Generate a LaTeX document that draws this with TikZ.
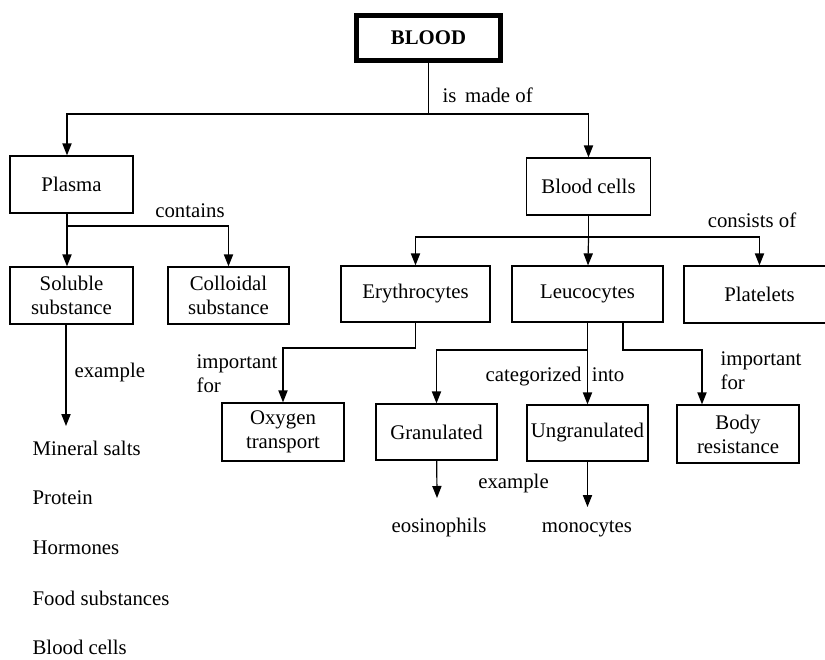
\documentclass[tikz,border=0pt]{standalone}
\usepackage{fontspec}
\setmainfont{Liberation Serif}
\usepackage{tikz}
\usetikzlibrary{arrows.meta, positioning}

\begin{document}
\begin{tikzpicture}[x=0.5pt, y=-0.5pt, >={Triangle[length=6pt,width=4.6pt]},
    line width=0.6pt, font=\fontsize{10.4}{12}\selectfont,
    box/.style={draw, inner sep=1pt, align=center, minimum height=28.5pt},
    note/.style={inner sep=1pt, align=left}]
    \clip (0,0) rectangle (825,659);

    % top
    \node[draw, line width=2.4pt, minimum width=72pt, minimum height=22.5pt] (blood) at (428.5,38) {\textbf{BLOOD}};

    % second row
    \node[box, minimum width=61.5pt] (plasma) at (71.5,184.5) {Plasma};
    \node[box, minimum width=62pt] (bloodcells) at (588.5,186.5) {Blood cells};

    % third row
    \node[box, minimum width=61.5pt] (soluble) at (71.5,295.5) {Soluble\\substance};
    \node[box, minimum width=60.5pt] (colloidal) at (228.5,295.5) {Colloidal\\substance};
    \node[box, minimum width=74.5pt, minimum height=28pt] (erythro) at (415.5,294) {Erythrocytes};
    \node[box, minimum width=75.5pt, minimum height=28pt] (leuco) at (587.5,294) {Leucocytes};
    \node[box, minimum width=75.5pt] (platelets) at (759.5,294.5) {Platelets};

    % fourth row
    \node[box, minimum width=61pt, minimum height=29pt] (oxygen) at (283,432) {Oxygen\\transport};
    \node[box, minimum width=60.5pt, minimum height=28pt] (gran) at (436.5,432) {Granulated};
    \node[box, minimum width=60.5pt, minimum height=28pt] (ungran) at (587.5,433) {Ungranulated};
    \node[box, minimum width=61pt, minimum height=29pt] (body) at (738,434) {Body\\resistance};

    % examples
    \node[note] (eosin) at (439,527) {eosinophils};
    \node[note] (mono) at (587,529) {monocytes};
    \node[note, anchor=west] (salts) at (30,448) {Mineral salts};
    \node[note, anchor=west] (protein) at (30,498) {Protein};
    \node[note, anchor=west] (hormones) at (30,548) {Hormones};
    \node[note, anchor=west] (food) at (30,598) {Food substances};
    \node[note, anchor=west] (cells) at (30,647) {Blood cells};

    % junctions
    \coordinate (mj) at (428.5,114);
    \coordinate (pj) at (67,226);
    \coordinate (bj) at (588.5,237);
    \coordinate (ej) at (415.5,348);
    \coordinate (lj) at (587.5,350);
    \coordinate (rj) at (702,350);
    \coordinate (sx) at (66,426);
    \coordinate (gend) at (437,498);
    \coordinate (uend) at (587.5,507);

    % connectors
    \draw (blood) -- (mj);
    \draw[->] (mj) -| (plasma.north -| pj);
    \draw[->] (mj) -| (bloodcells);
    \draw (plasma.south -| pj) -- (pj);
    \draw[->] (pj) -- (soluble.north -| pj);
    \draw[->] (pj) -| (colloidal);
    \draw (bloodcells) -- (bj);
    \draw[->] (bj) -| (erythro);
    \draw[->] (bj) -- (leuco);
    \draw[->] (bj) -| (platelets);
    \draw[->] (erythro) -- (ej) -| (oxygen);
    \draw[->] (leuco) -- (ungran);
    \draw[->] (lj) -| (gran);
    \draw[->] ([xshift=17.75pt]leuco.south) |- (rj) -- (rj |- body.north);
    \draw[->] (soluble.south -| sx) -- (sx);
    \draw[->] (gran) -- (gend);
    \draw[->] (ungran) -- (uend);

    % labels
    \node[note, anchor=west] at (440,95) {is\, made of};
    \node[note] at (190,211) {contains};
    \node[note] at (752,220) {consists of};
    \node[note, anchor=west] at (72,372) {example};
    \node[note, anchor=west] at (194,374) {important\\for};
    \node[note, anchor=west] at (718,371) {important\\for};
    \node[note] at (555,377) {categorized\ \ into};
    \node[note] at (513.5,483) {example};
\end{tikzpicture}
\end{document}
